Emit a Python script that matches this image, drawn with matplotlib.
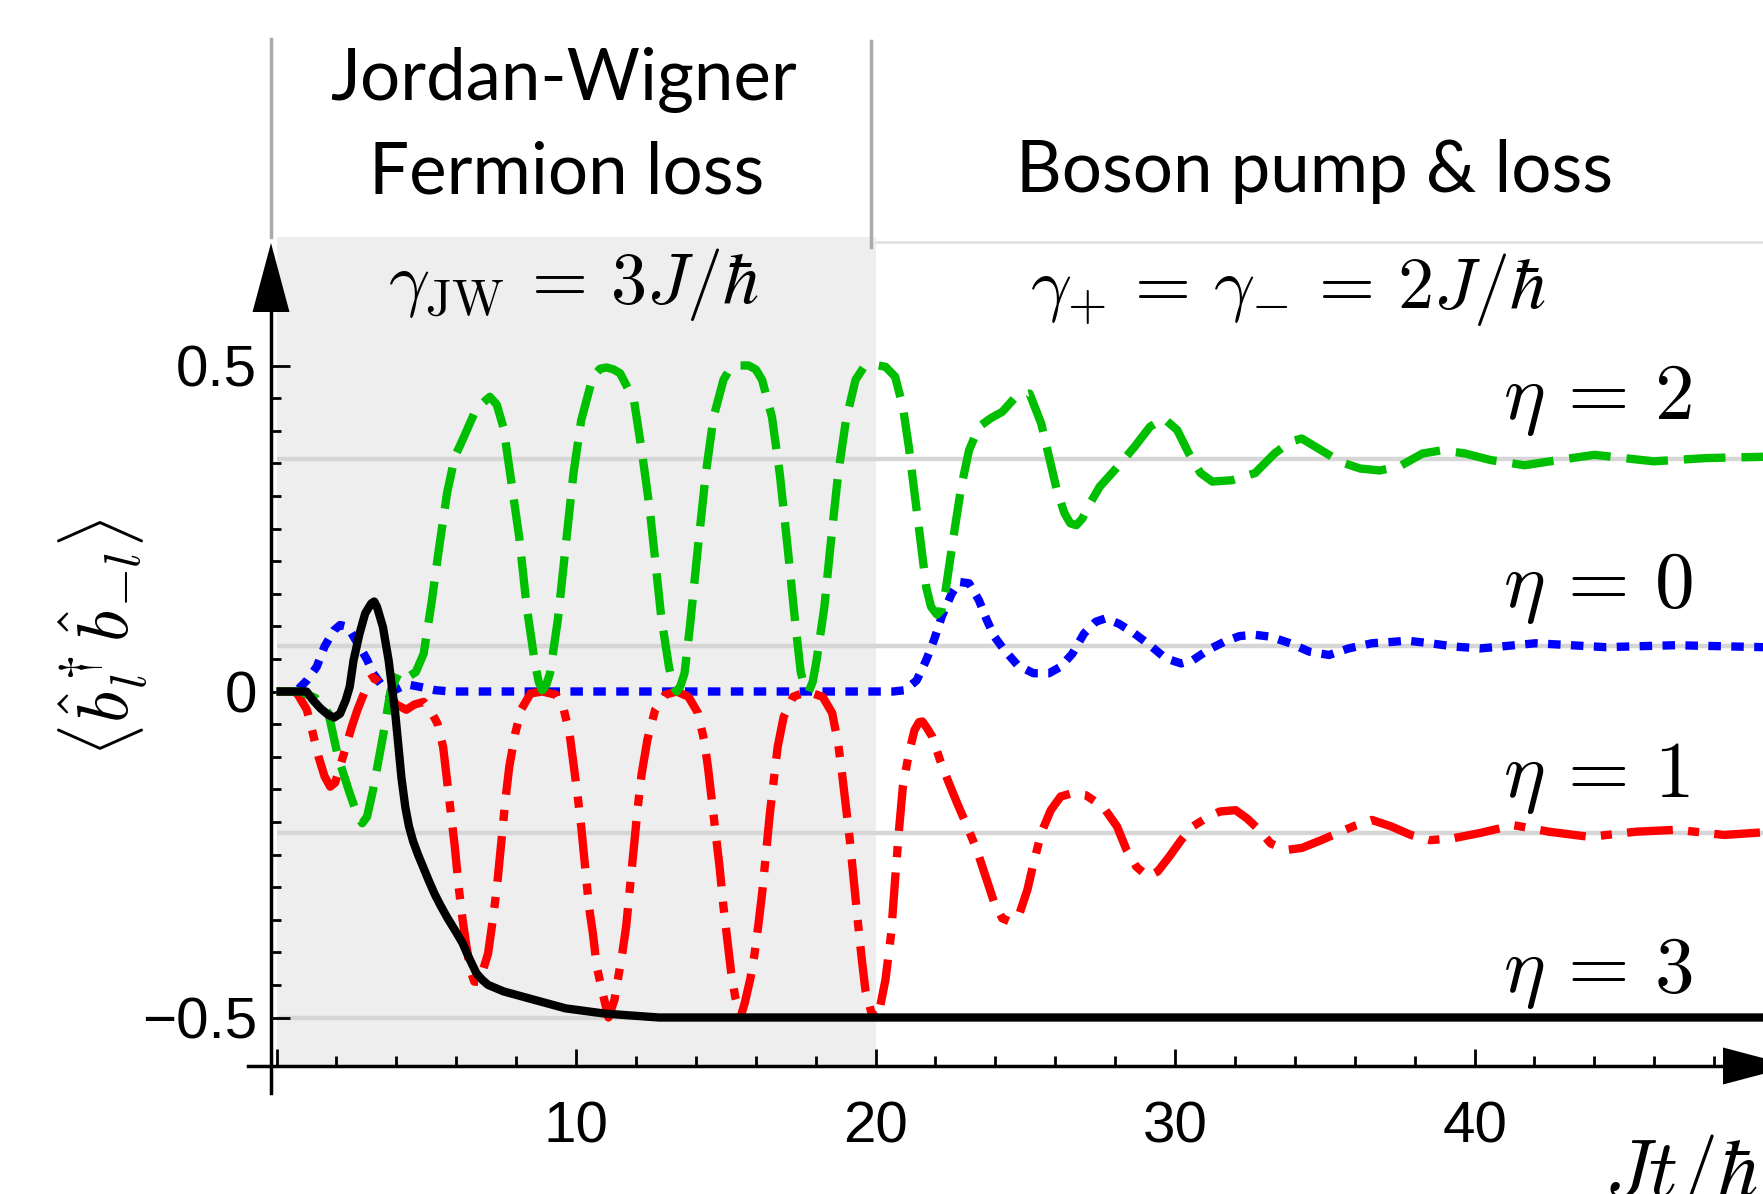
import numpy as np
import matplotlib
matplotlib.use("Agg")
import matplotlib.pyplot as plt
from matplotlib.ticker import FixedLocator

plt.rcParams['mathtext.fontset'] = 'cm'
plt.rcParams['lines.scale_dashes'] = False

# ---- data: time Jt/hbar and <b_l^+ b_-l> ----
eta0_t = [0.0, 0.5, 0.69, 1.01, 1.34, 1.6, 1.92, 2.12, 2.3, 2.44, 2.77, 3.03, 3.22, 3.55, 3.94,
          4.2, 4.46, 4.8, 5.3, 5.8, 20.59, 20.98, 21.37, 21.69, 21.95, 22.21, 22.54, 22.8, 23.12,
          23.45, 23.71, 23.97, 24.29, 24.75, 25.27, 25.79, 26.18, 26.57, 26.96, 27.35, 27.67,
          28.12, 28.64, 29.16, 29.68, 30.2, 30.59, 31.11, 31.63, 32.15, 32.67, 33.19, 33.84,
          34.49, 35.14, 35.79, 36.57, 37.22, 37.74, 38.52, 39.3, 40.18, 42.04, 44.37, 46.7, 49.64]
eta0_v = [0.0, 0.0, 0.002, 0.017, 0.038, 0.069, 0.094, 0.102, 0.1, 0.094, 0.069, 0.048, 0.028,
          0.007, 0.002, 0.008, 0.01, 0.007, 0.002, 0.0, 0.0, 0.002, 0.017, 0.048, 0.079, 0.115,
          0.15, 0.168, 0.166, 0.14, 0.11, 0.084, 0.064, 0.04, 0.028, 0.028, 0.038, 0.058, 0.089,
          0.107, 0.112, 0.104, 0.089, 0.071, 0.051, 0.043, 0.048, 0.064, 0.076, 0.085, 0.087,
          0.084, 0.074, 0.061, 0.056, 0.066, 0.074, 0.076, 0.078, 0.074, 0.069, 0.066, 0.074,
          0.068, 0.071, 0.068]

eta1_t = [0.0, 0.55, 0.69, 1.01, 1.21, 1.4, 1.6, 1.79, 1.95, 2.05, 2.31, 2.51, 2.7, 2.96, 3.1,
          3.22, 3.4, 3.55, 3.75, 4.0, 4.33, 4.6, 4.91, 5.15, 5.37, 5.56, 5.69, 5.82, 5.95, 6.08,
          6.21, 6.34, 6.47, 6.6, 6.75, 6.86, 7.06, 7.25, 7.38, 7.51, 7.64, 7.77, 7.97, 8.16, 8.48,
          8.87, 9.33, 9.59, 9.78, 9.91, 10.04, 10.17, 10.3, 10.43, 10.56, 10.69, 10.89, 11.08,
          11.28, 11.41, 11.54, 11.67, 11.8, 11.93, 12.06, 12.19, 12.38, 12.64, 12.97, 13.36,
          13.75, 14.07, 14.27, 14.4, 14.53, 14.66, 14.79, 14.92, 15.05, 15.18, 15.31, 15.5,
          15.63, 15.82, 15.95, 16.08, 16.21, 16.34, 16.47, 16.6, 16.73, 16.93, 17.25, 17.71,
          18.23, 18.55, 18.75, 18.88, 19.01, 19.14, 19.27, 19.4, 19.53, 19.66, 19.85, 20.0,
          20.13, 20.33, 20.52, 20.65, 20.78, 20.91, 21.11, 21.3, 21.45, 21.56, 21.7, 21.89,
          22.15, 22.41, 22.73, 23.06, 23.38, 23.71, 23.97, 24.23, 24.49, 24.81, 25.07, 25.27,
          25.53, 25.85, 26.18, 26.57, 27.02, 27.6, 28.06, 28.38, 28.71, 29.1, 29.42, 29.81,
          30.2, 30.59, 31.11, 31.5, 32.02, 32.41, 32.8, 33.19, 33.71, 34.23, 34.88, 35.53,
          36.05, 36.57, 37.22, 37.87, 38.52, 39.3, 40.18, 41.3, 42.48, 43.84, 45.4, 46.76,
          48.32, 49.64]
eta1_v = [0.0, 0.0, -0.003, -0.028, -0.064, -0.1, -0.13, -0.146, -0.14, -0.126, -0.085, -0.054,
          -0.028, 0.002, 0.018, 0.022, 0.015, 0.007, -0.005, -0.02, -0.028, -0.02, -0.016, -0.03,
          -0.049, -0.085, -0.136, -0.187, -0.238, -0.3, -0.35, -0.391, -0.427, -0.445, -0.445,
          -0.432, -0.402, -0.34, -0.289, -0.228, -0.166, -0.115, -0.064, -0.028, -0.003, 0.0,
          -0.005, -0.028, -0.064, -0.11, -0.156, -0.207, -0.269, -0.33, -0.371, -0.422, -0.463,
          -0.5, -0.473, -0.437, -0.402, -0.361, -0.3, -0.238, -0.177, -0.126, -0.074, -0.028,
          -0.005, 0.0, -0.008, -0.033, -0.074, -0.115, -0.166, -0.217, -0.269, -0.33, -0.381,
          -0.432, -0.468, -0.498, -0.478, -0.44, -0.405, -0.36, -0.31, -0.248, -0.187, -0.136,
          -0.085, -0.039, -0.008, 0.0, -0.008, -0.033, -0.08, -0.126, -0.177, -0.228, -0.289,
          -0.35, -0.407, -0.458, -0.491, -0.5, -0.488, -0.442, -0.371, -0.289, -0.213, -0.146,
          -0.095, -0.059, -0.047, -0.046, -0.055, -0.069, -0.105, -0.136, -0.172, -0.207, -0.243,
          -0.289, -0.325, -0.348, -0.353, -0.34, -0.304, -0.264, -0.217, -0.182, -0.161, -0.156,
          -0.159, -0.177, -0.207, -0.243, -0.269, -0.284, -0.276, -0.253, -0.228, -0.207,
          -0.192, -0.184, -0.182, -0.195, -0.212, -0.233, -0.243, -0.24, -0.228, -0.215, -0.205,
          -0.197, -0.207, -0.22, -0.228, -0.225, -0.217, -0.205, -0.215, -0.223, -0.215, -0.212,
          -0.22, -0.216]

eta2_t = [0.0, 0.8, 1.3, 1.73, 2.05, 2.44, 2.7, 2.86, 3.02, 3.22, 3.55, 3.81, 4.07, 4.25, 4.45,
          4.65, 4.91, 5.17, 5.43, 5.69, 5.95, 6.21, 6.67, 7.12, 7.35, 7.58, 7.83, 8.1, 8.35, 8.61,
          8.75, 8.87, 9.0, 9.13, 9.39, 9.65, 9.91, 10.17, 10.56, 10.8, 11.02, 11.25, 11.47, 11.93,
          12.19, 12.45, 12.64, 12.84, 13.1, 13.25, 13.36, 13.48, 13.62, 13.81, 14.07, 14.33,
          14.59, 14.92, 15.15, 15.37, 15.76, 16.0, 16.21, 16.54, 16.8, 17.06, 17.32, 17.5, 17.65,
          17.77, 17.9, 18.03, 18.29, 18.49, 18.75, 19.01, 19.33, 19.6, 19.81, 20.1, 20.33, 20.65,
          20.91, 21.11, 21.3, 21.47, 21.69, 21.85, 22.05, 22.2, 22.34, 22.6, 22.86, 23.12, 23.45,
          23.84, 24.23, 24.68, 25.14, 25.53, 25.79, 26.05, 26.31, 26.5, 26.7, 26.9, 27.09, 27.48,
          27.99, 28.64, 29.16, 29.62, 30.07, 30.46, 30.85, 31.24, 31.89, 32.67, 33.32, 33.84,
          34.23, 34.88, 35.53, 36.18, 36.83, 37.48, 38.26, 38.91, 39.69, 40.53, 41.67, 42.8,
          44.0, 45.98, 47.73, 49.64]
eta2_v = [0.0, 0.0, -0.01, -0.033, -0.1, -0.156, -0.19, -0.202, -0.192, -0.151, -0.069, 0.002,
          0.028, 0.032, 0.024, 0.03, 0.058, 0.135, 0.222, 0.304, 0.36, 0.386, 0.434, 0.452, 0.44,
          0.404, 0.324, 0.237, 0.13, 0.048, 0.015, 0.002, 0.01, 0.028, 0.11, 0.222, 0.334, 0.416,
          0.483, 0.495, 0.497, 0.494, 0.488, 0.447, 0.37, 0.283, 0.202, 0.115, 0.038, 0.008, 0.0,
          0.008, 0.028, 0.104, 0.222, 0.334, 0.421, 0.478, 0.496, 0.5, 0.5, 0.494, 0.478, 0.421,
          0.334, 0.222, 0.104, 0.03, 0.003, 0.0, 0.015, 0.048, 0.13, 0.222, 0.334, 0.416, 0.478,
          0.497, 0.5, 0.5, 0.498, 0.483, 0.437, 0.375, 0.304, 0.242, 0.16, 0.13, 0.118, 0.125,
          0.156, 0.237, 0.314, 0.37, 0.406, 0.419, 0.429, 0.452, 0.457, 0.411, 0.36, 0.309, 0.273,
          0.258, 0.255, 0.265, 0.283, 0.314, 0.34, 0.375, 0.406, 0.419, 0.401, 0.365, 0.335,
          0.322, 0.324, 0.335, 0.365, 0.383, 0.388, 0.37, 0.352, 0.342, 0.339, 0.345, 0.365,
          0.37, 0.365, 0.355, 0.347, 0.355, 0.363, 0.353, 0.358, 0.36]

eta3_t = [0.0, 1.0, 1.21, 1.47, 1.73, 1.92, 2.12, 2.31, 2.44, 2.57, 2.77, 2.96, 3.16, 3.26, 3.35,
          3.55, 3.74, 3.87, 3.96, 4.07, 4.17, 4.3, 4.42, 4.56, 4.72, 4.9, 5.08, 5.27, 5.47, 5.7,
          6.02, 6.21, 6.41, 6.67, 6.86, 7.06, 7.58, 8.61, 9.65, 10.95, 12.77, 49.64]
eta3_v = [0.0, 0.0, -0.013, -0.026, -0.036, -0.04, -0.034, -0.013, 0.007, 0.048, 0.089, 0.12,
          0.135, 0.138, 0.13, 0.099, 0.048, 0.0, -0.033, -0.085, -0.133, -0.178, -0.207, -0.23,
          -0.25, -0.27, -0.29, -0.31, -0.328, -0.347, -0.371, -0.386, -0.407, -0.432, -0.442,
          -0.45, -0.46, -0.473, -0.486, -0.494, -0.5, -0.5]

# steady-state reference levels (light grey lines)
steady_levels = [0.356, 0.07, -0.217, -0.5]
eta_names = ['2', '0', '1', '3']

# ---- layout: pixel -> data mapping of the 1763x1194 canvas ----
W, H = 1763, 1194
PX_T0, PX_PER_T = 276.6, 29.95      # x pixel of t=0, pixels per unit t
PX_V0, PX_PER_V = 691.5, 652.0      # y pixel of v=0, pixels per unit v
t_lo, t_hi = -PX_T0 / PX_PER_T, (W - PX_T0) / PX_PER_T
v_lo, v_hi = (PX_V0 - H) / PX_PER_V, PX_V0 / PX_PER_V

def v_at(py):
    return (PX_V0 - py) / PX_PER_V

def t_at(px):
    return (px - PX_T0) / PX_PER_T

fig = plt.figure(figsize=(W / 100, H / 100), dpi=100)
ax = fig.add_axes([0, 0, 1, 1])
ax.set_xlim(t_lo, t_hi)
ax.set_ylim(v_lo, v_hi)

y_spine_t = t_at(271)
x_spine_v = v_at(1066)
shade_top = v_at(237)

# shaded Jordan-Wigner stage
ax.fill_between([0, 20], x_spine_v, shade_top, color='#eeeeee', lw=0, zorder=0)
# header separators
ax.plot([y_spine_t, y_spine_t], [v_at(39), shade_top], color='#aaaaaa', lw=2.5, zorder=1)
ax.plot([t_at(871), t_at(871)], [v_at(41), v_at(247)], color='#aaaaaa', lw=2.5, zorder=1)
ax.plot([20, t_hi], [v_at(242), v_at(242)], color='#e2e2e2', lw=2, zorder=1)

ax.hlines(steady_levels, 0, t_hi, colors='#d6d6d6', lw=3.2, zorder=1)

lw = 6.0
ax.plot(eta0_t, eta0_v, color='#0000ff', lw=lw, ls=(0, (9, 7.5)), zorder=3)
ax.plot(eta1_t, eta1_v, color='#ff0000', lw=lw, ls=(0, (33, 11, 8, 11)), zorder=3)
ax.plot(eta2_t, eta2_v, color='#00bf00', lw=lw, ls=(0, (30, 11.5)), zorder=4)
ax.plot(eta3_t, eta3_v, color='black', lw=6.0, solid_capstyle='butt', solid_joinstyle='round',
        zorder=5)

# axes
for s in ['top', 'right']:
    ax.spines[s].set_visible(False)
ax.spines['left'].set_position(('data', y_spine_t))
ax.spines['bottom'].set_position(('data', x_spine_v))
ax.spines['left'].set_bounds(v_at(1093), v_at(300))
ax.spines['bottom'].set_bounds(t_at(248), t_at(1740))
for s in ['left', 'bottom']:
    ax.spines[s].set_linewidth(2.5)
    ax.spines[s].set_zorder(6)

# arrow heads
hw_t, hw_v = 18.5 / PX_PER_T, 18.5 / PX_PER_V
ax.fill([y_spine_t - hw_t, y_spine_t + hw_t, y_spine_t], [v_at(312), v_at(312), v_at(243)],
        color='black', lw=0, clip_on=False, zorder=7)
ax.fill([t_at(1723), t_at(1723), t_at(1793)], [x_spine_v - hw_v, x_spine_v + hw_v, x_spine_v],
        color='black', lw=0, clip_on=False, zorder=7)

ax.xaxis.set_major_locator(FixedLocator([0, 10, 20, 30, 40]))
ax.set_xticklabels(['', '10', '20', '30', '40'])
ax.xaxis.set_minor_locator(FixedLocator(np.arange(2, 49, 2)))
ax.yaxis.set_major_locator(FixedLocator([-0.5, 0, 0.5]))
ax.set_yticklabels(['\u22120.5', '0', '0.5'])
ax.yaxis.set_minor_locator(FixedLocator(np.arange(-0.45, 0.46, 0.05)))
ax.tick_params(which='both', direction='in', width=2)
ax.tick_params(axis='x', which='major', length=12.5, pad=25)
ax.tick_params(axis='x', which='minor', length=7)
ax.tick_params(axis='y', which='major', length=14, pad=10)
ax.tick_params(axis='y', which='minor', length=7)
for lab in ax.get_xticklabels() + ax.get_yticklabels():
    lab.set_fontfamily('Liberation Sans')
    lab.set_fontsize(42)

ax.set_ylabel(r'$\langle \hat{b}_l^\dagger \hat{b}_{-l} \rangle$', fontsize=52)
ax.yaxis.set_label_coords(t_at(104), v_at(638), transform=ax.transData)
ax.yaxis.label.set_verticalalignment('center')
ax.set_xlabel(r'$Jt/\hbar$', fontsize=58)
ax.xaxis.set_label_coords(t_at(1604), v_at(1196), transform=ax.transData)
ax.xaxis.label.set_horizontalalignment('left')
ax.xaxis.label.set_verticalalignment('baseline')

head = dict(fontfamily='Lato', fontsize=51, ha='center', va='baseline')
ax.text(t_at(564), v_at(100), 'Jordan-Wigner', **head)
ax.text(t_at(567), v_at(193), 'Fermion loss', **head)
ax.text(t_at(1314), v_at(192), 'Boson pump & loss', **head)
ax.text(t_at(574), v_at(303), r'$\gamma_{\rm JW} \,=\, 3J/\hbar$', fontsize=52,
        ha='center', va='baseline')
ax.text(t_at(1288), v_at(308), r'$\gamma_{+} \,=\, \gamma_{-} \,=\, 2J/\hbar$', fontsize=52,
        ha='center', va='baseline')

for name, py in zip(eta_names, [418.5, 607, 797, 992]):
    ax.text(t_at(1503), v_at(py), r'$\eta \,=\, %s$' % name, fontsize=57, ha='left',
            va='baseline')

fig.savefig('out.png', dpi=100)
